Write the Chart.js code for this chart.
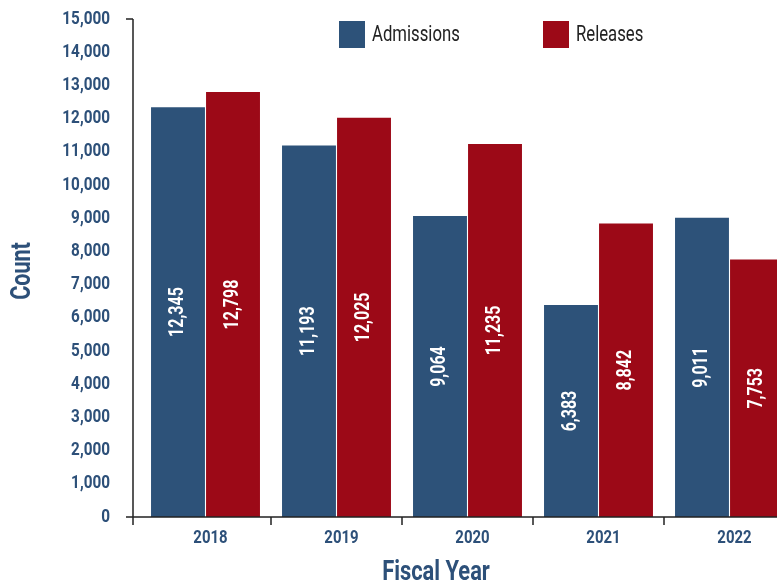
<!DOCTYPE html>
<html>
<head>
<meta charset="utf-8">
<title>Admissions and Releases by Fiscal Year</title>
<script src="https://cdn.jsdelivr.net/npm/chart.js@4.4.0/dist/chart.umd.min.js"></script>
<style>
    html, body { margin: 0; padding: 0; background: #fff; overflow: hidden; }
    #wrap { width: 800px; height: 586px; }
</style>
</head>
<body>
<div id="wrap"><canvas id="countChart" width="800" height="586"></canvas></div>
<script>
// Chart data
const years = ['2018', '2019', '2020', '2021', '2022'];
const admissions = [12345, 11193, 9064, 6383, 9011];
const releases = [12798, 12025, 11235, 8842, 7753];
const yMin = 0;
const yMax = 15000;
const yStep = 1000;

const BLUE = '#2d5279';
const RED = '#9c0917';
const LABEL_BLUE = '#2d5079';
const FONT = "Roboto, 'Liberation Sans', sans-serif";

const fmt = v => Number(v).toLocaleString('en-US');

// Text drawn with a horizontal squeeze, to imitate the condensed face of the original
function drawText(ctx, text, x, y, opts) {
    ctx.save();
    ctx.translate(x, y);
    if (opts.rotate) ctx.rotate(opts.rotate);
    ctx.scale(opts.squeeze || 1, 1);
    ctx.font = (opts.weight || 'bold') + ' ' + opts.size + 'px ' + FONT;
    ctx.fillStyle = opts.color;
    ctx.textAlign = opts.align || 'center';
    ctx.textBaseline = 'middle';
    ctx.fillText(text, 0, 0);
    ctx.restore();
}

// Draws value labels, axis lines, tick labels, titles and the legend
const decorPlugin = {
    id: 'decor',
    afterDatasetsDraw(chart) {
        const ctx = chart.ctx;
        chart.data.datasets.forEach((ds, i) => {
            chart.getDatasetMeta(i).data.forEach((bar, j) => {
                drawText(ctx, fmt(ds.data[j]), bar.x, (bar.y + bar.base) / 2, {
                    size: 21, color: '#ffffff', squeeze: 0.76, rotate: -Math.PI / 2
                });
            });
        });
    },
    afterDraw(chart) {
        const ctx = chart.ctx;
        const area = chart.chartArea;
        const xs = chart.scales.x;
        const ys = chart.scales.y;
        const y0 = ys.getPixelForValue(yMin);
        const yTop = ys.getPixelForValue(yMax);
        const axisX = area.left - 7;

        // axis lines
        ctx.save();
        ctx.strokeStyle = '#222';
        ctx.lineWidth = 1.5;
        ctx.beginPath();
        ctx.moveTo(axisX, yTop);
        ctx.lineTo(axisX, y0 + 8);
        ctx.moveTo(axisX - 7, yTop);
        ctx.lineTo(axisX, yTop);
        ctx.moveTo(axisX - 7, y0);
        ctx.lineTo(area.right, y0);
        for (let i = 1; i < years.length; i++) {
            const bx = (xs.getPixelForTick(i - 1) + xs.getPixelForTick(i)) / 2;
            ctx.moveTo(bx, y0);
            ctx.lineTo(bx, y0 + 8);
        }
        ctx.stroke();
        ctx.restore();

        // tick labels
        ys.ticks.forEach(t => {
            drawText(ctx, fmt(t.value), axisX - 23, ys.getPixelForValue(t.value), {
                size: 18, color: LABEL_BLUE, squeeze: 0.85, align: 'right'
            });
        });
        years.forEach((yr, i) => {
            drawText(ctx, yr, xs.getPixelForTick(i) + 5, y0 + 21, {
                size: 18, color: LABEL_BLUE, squeeze: 0.83
            });
        });

        // axis titles
        drawText(ctx, 'Fiscal Year', 436, 573, { size: 27, color: LABEL_BLUE, squeeze: 0.81 });
        drawText(ctx, 'Count', 23, 271, { size: 28, color: LABEL_BLUE, squeeze: 0.77, rotate: -Math.PI / 2 });

        // legend
        let lx = 339;
        chart.data.datasets.forEach(ds => {
            ctx.fillStyle = ds.backgroundColor;
            ctx.fillRect(lx, 21, 26, 27);
            drawText(ctx, ds.label, lx + 33, 35, {
                size: 22, weight: 'normal', color: '#222', squeeze: 0.76, align: 'left'
            });
            lx += 204;
        });
    }
};

new Chart(document.getElementById('countChart').getContext('2d'), {
    type: 'bar',
    data: {
        labels: years,
        datasets: [
            { label: 'Admissions', data: admissions, backgroundColor: BLUE },
            { label: 'Releases', data: releases, backgroundColor: RED }
        ]
    },
    options: {
        responsive: false,
        animation: false,
        datasets: {
            bar: { categoryPercentage: 0.84, barPercentage: 0.98 }
        },
        layout: { padding: { top: 19, right: 5, left: 0, bottom: 0 } },
        plugins: {
            legend: { display: false },
            tooltip: { enabled: false }
        },
        scales: {
            x: {
                grid: { display: false },
                border: { display: false },
                ticks: { display: false },
                afterFit: scale => { scale.height = 69; }
            },
            y: {
                min: yMin,
                max: yMax,
                grid: { display: false },
                border: { display: false },
                ticks: { display: false, stepSize: yStep },
                afterFit: scale => { scale.width = 140; }
            }
        }
    },
    plugins: [decorPlugin]
});
</script>
</body>
</html>
